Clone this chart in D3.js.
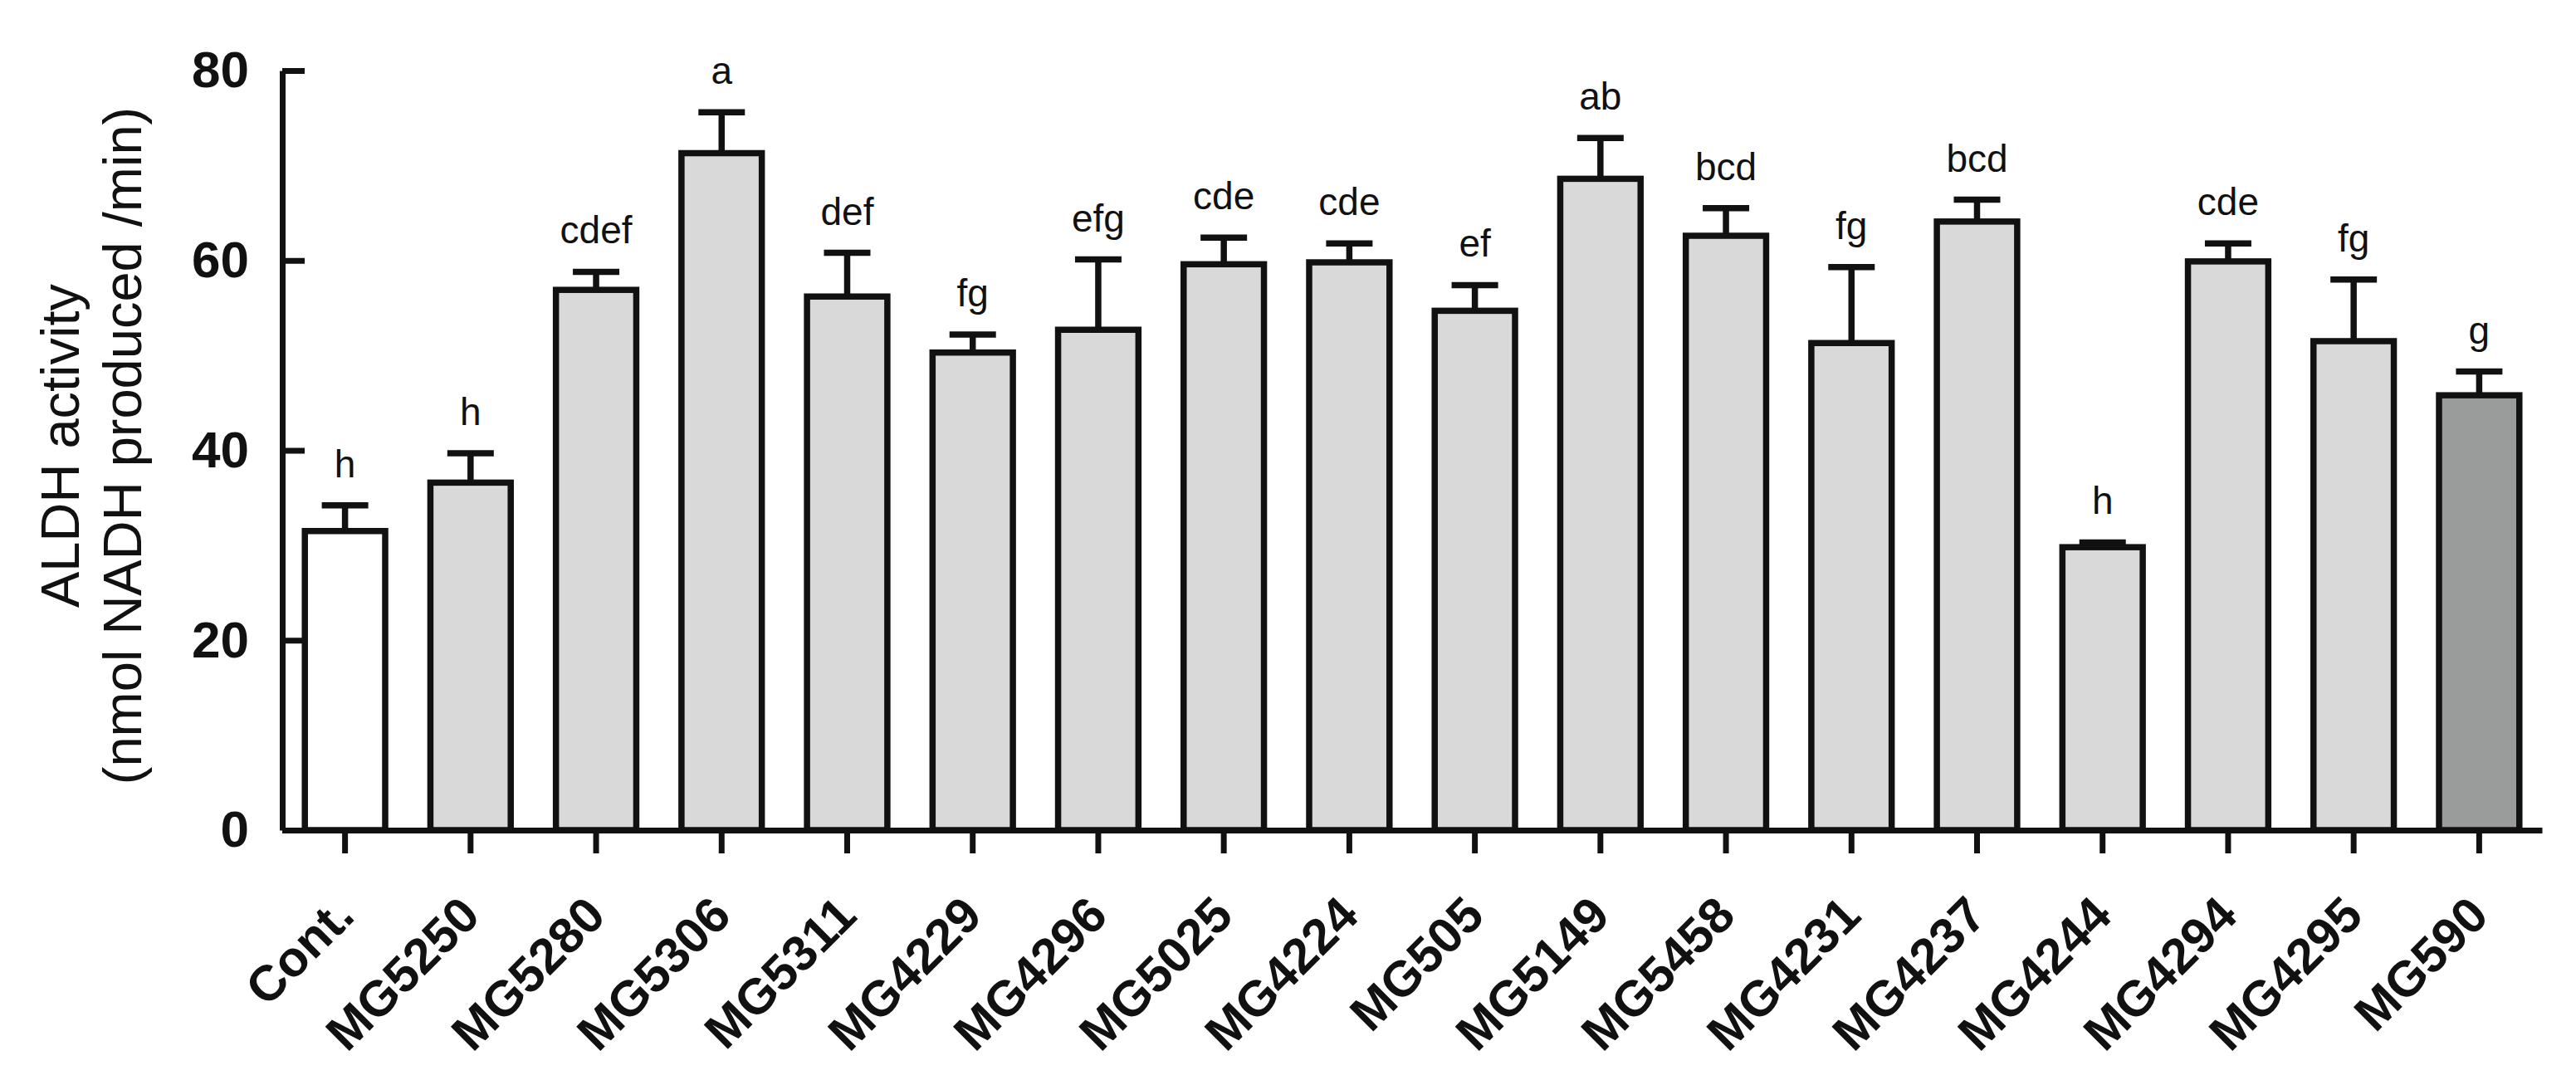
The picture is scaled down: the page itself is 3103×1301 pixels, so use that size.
<!DOCTYPE html>
<meta charset="utf-8">
<style>
body { margin: 0; background: #fff; }
svg { display: block; }
.axis path, .axis line { stroke: #111; stroke-width: 7px; }
.axis text { font-family: Arial, "Liberation Sans", sans-serif; font-weight: bold; fill: #111; }
</style>
<svg width="3103" height="1301"></svg>
<script src="https://cdn.jsdelivr.net/npm/d3@7"></script>
<script>
// values
var strains = ["Cont.", "MG5250", "MG5280", "MG5306", "MG5311", "MG4229", "MG4296", "MG5025", "MG4224",
               "MG505", "MG5149", "MG5458", "MG4231", "MG4237", "MG4244", "MG4294", "MG4295", "MG590"];
var activity = [31.5, 36.6, 56.9, 71.3, 56.2, 50.3, 52.7, 59.6, 59.8,
                54.7, 68.6, 62.6, 51.3, 64.1, 29.8, 59.9, 51.5, 45.8];
var sem = [2.7, 3.1, 1.9, 4.3, 4.6, 1.9, 7.4, 2.8, 2.0,
           2.7, 4.3, 2.9, 8.0, 2.3, 0.5, 1.9, 6.5, 2.5];
var groups = ["h", "h", "cdef", "a", "def", "fg", "efg", "cde", "cde",
              "ef", "ab", "bcd", "fg", "bcd", "h", "cde", "fg", "g"];
var yTicks = [0, 20, 40, 60, 80];

var svg = d3.select("svg");
var font = "Arial, 'Liberation Sans', sans-serif";

var x = d3.scaleBand()
    .domain(strains)
    .range([340, 3062])
    .paddingInner(0.36)
    .paddingOuter(0.18);

var y = d3.scaleLinear()
    .domain([0, 80])
    .range([1000, 85]);

function barFill(name) {
  if (name == "Cont.") return "#ffffff";
  if (name == "MG590") return "#9a9c9b";
  return "#d9d9d9";
}

var data = strains.map(function(s, i) {
  return {name: s, value: activity[i], err: sem[i], group: groups[i]};
});

function mid(d) { return x(d.name) + x.bandwidth() / 2; }

// error bars (drawn first so bar outline covers the joint)
var err = svg.append("g").selectAll("g")
    .data(data)
  .enter().append("g");

err.append("line")
    .attr("x1", mid)
    .attr("x2", mid)
    .attr("y1", function(d) { return y(d.value); })
    .attr("y2", function(d) { return y(d.value + d.err); })
    .attr("stroke", "#111")
    .attr("stroke-width", 7.5);

err.append("line")
    .attr("x1", function(d) { return mid(d) - 28; })
    .attr("x2", function(d) { return mid(d) + 28; })
    .attr("y1", function(d) { return y(d.value + d.err); })
    .attr("y2", function(d) { return y(d.value + d.err); })
    .attr("stroke", "#111")
    .attr("stroke-width", 7.5);

svg.append("g").selectAll("rect")
    .data(data)
  .enter().append("rect")
    .attr("x", function(d) { return x(d.name); })
    .attr("width", x.bandwidth())
    .attr("y", function(d) { return y(d.value); })
    .attr("height", function(d) { return y(0) - y(d.value); })
    .attr("fill", function(d) { return barFill(d.name); })
    .attr("stroke", "#111")
    .attr("stroke-width", 7.5);

// significance letters
svg.append("g").selectAll("text")
    .data(data)
  .enter().append("text")
    .attr("x", mid)
    .attr("y", function(d) { return y(d.value + d.err) - 34; })
    .attr("text-anchor", "middle")
    .style("font-family", font)
    .style("font-size", "46px")
    .attr("fill", "#111")
    .text(function(d) { return d.group; });

// y axis, ticks pointing inward
svg.append("g")
    .attr("class", "axis")
    .attr("transform", "translate(340,0)")
    .call(d3.axisLeft(y).tickValues(yTicks).tickSizeInner(-27).tickSizeOuter(0).tickPadding(40))
    .selectAll("text")
    .style("font-size", "62px");

// x axis
var xAxis = svg.append("g")
    .attr("class", "axis")
    .attr("transform", "translate(0," + y(0) + ")")
    .call(d3.axisBottom(x).tickSizeInner(28).tickSizeOuter(0));

xAxis.selectAll("text")
    .attr("text-anchor", "end")
    .attr("dy", null)
    .attr("y", 0)
    .attr("transform", "translate(14,106) rotate(-45)")
    .style("font-size", "60px");

// axis title
var title = svg.append("text")
    .attr("transform", "translate(0,537) rotate(-90)")
    .attr("text-anchor", "middle")
    .style("font-family", font)
    .style("font-size", "65px")
    .attr("fill", "#111");
title.append("tspan").attr("x", 0).attr("y", 95).text("ALDH activity");
title.append("tspan").attr("x", 0).attr("y", 170).text("(nmol NADH produced /min)");
</script>
